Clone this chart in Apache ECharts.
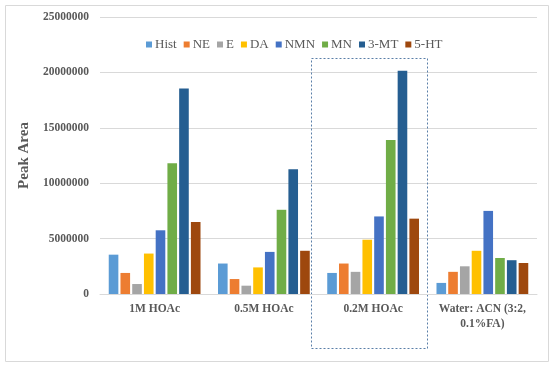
<!DOCTYPE html>
<html><head><meta charset="utf-8">
<script src="https://cdn.jsdelivr.net/npm/echarts@6/dist/echarts.min.js"></script>
<style>html,body{margin:0;padding:0;background:#fff}#c{width:554px;height:368px}</style>
</head><body><div id="c"></div>
<script>
const categories = ['1M HOAc', '0.5M HOAc', '0.2M HOAc', 'Water: ACN (3:2,\n0.1%FA)'];
const seriesNames = ['Hist', 'NE', 'E', 'DA', 'NMN', 'MN', '3-MT', '5-HT'];
const hist = [3550000, 2750000, 1900000, 1000000];
const ne   = [1900000, 1350000, 2750000, 2000000];
const e    = [900000, 750000, 2000000, 2500000];
const da   = [3650000, 2400000, 4900000, 3900000];
const nmn  = [5750000, 3800000, 7000000, 7500000];
const mn   = [11800000, 7600000, 13900000, 3250000];
const mt3  = [18550000, 11250000, 20150000, 3050000];
const ht5  = [6500000, 3900000, 6800000, 2800000];
const seriesValues = [hist, ne, e, da, nmn, mn, mt3, ht5];
const colors = ['#5B9BD5', '#ED7D31', '#A5A5A5', '#FFC000', '#4472C4', '#70AD47', '#255E91', '#9E480E'];
const yTicks = { min: 0, max: 25000000, interval: 5000000 };
const highlightCategory = '0.2M HOAc';

const font = 'Liberation Serif, Times New Roman, serif';
const chart = echarts.init(document.getElementById('c'));
chart.setOption({
  animation: false,
  color: colors,
  grid: { left: 100, right: 17, top: 17, bottom: 74 },
  legend: {
    top: 33, left: 141,
    itemWidth: 6, itemHeight: 6, itemGap: 7,
    icon: 'rect',
    textStyle: { fontFamily: font, fontSize: 13, color: '#595959', padding: [0, 0, 0, -2] },
    data: seriesNames
  },
  xAxis: {
    type: 'category', data: categories,
    axisLine: { lineStyle: { color: '#d9d9d9' } },
    axisTick: { show: false },
    axisLabel: { fontFamily: font, fontSize: 11.5, fontWeight: 'bold', color: '#595959', margin: 8, lineHeight: 15, interval: 0 }
  },
  yAxis: {
    type: 'value', min: yTicks.min, max: yTicks.max, interval: yTicks.interval,
    name: 'Peak Area', nameLocation: 'middle', nameGap: 67,
    nameTextStyle: { fontFamily: font, fontSize: 15, fontWeight: 'bold', color: '#595959' },
    axisLine: { show: false }, axisTick: { show: false },
    splitLine: { lineStyle: { color: '#d9d9d9' } },
    axisLabel: { fontFamily: font, fontSize: 11.5, fontWeight: 'bold', color: '#595959', margin: 11,
      formatter: v => String(v) }
  },
  series: seriesNames.map((n, i) => ({
    name: n, type: 'bar', data: seriesValues[i],
    barGap: '22%', barCategoryGap: '16%'
  }))
});

function addAnnotations() {
  const idx = categories.indexOf(highlightCategory);
  const c0 = chart.convertToPixel({ xAxisIndex: 0 }, idx);
  const c1 = chart.convertToPixel({ xAxisIndex: 0 }, idx + 1);
  const band = c1 - c0;
  const yTop = chart.convertToPixel({ yAxisIndex: 0 }, 21300000);
  const yZero = chart.convertToPixel({ yAxisIndex: 0 }, 0);
  chart.setOption({
    graphic: [
      { type: 'rect', shape: { x: 5.5, y: 5.5, width: 543, height: 356 }, style: { fill: 'none', stroke: '#d9d9d9', lineWidth: 1 }, silent: true, z: -1 },
      { type: 'rect', shape: { x: Math.round(c0 - band / 2) - 7.5, y: Math.round(yTop) + 0.5, width: Math.round(band) + 7, height: Math.round(yZero - yTop) + 54 },
        style: { fill: 'none', stroke: '#5a7fa8', lineWidth: 1, lineDash: [2, 2] }, silent: true }
    ]
  });
}
addAnnotations();
</script></body></html>
